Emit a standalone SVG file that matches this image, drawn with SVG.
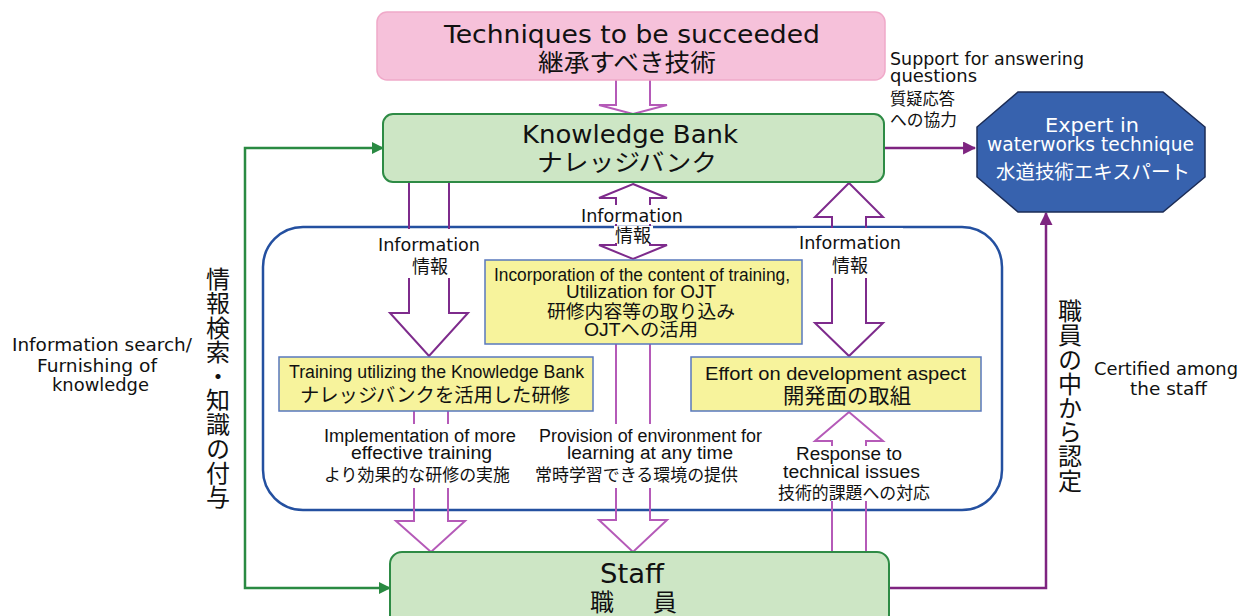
<svg xmlns="http://www.w3.org/2000/svg" width="1247" height="616" viewBox="0 0 1247 616">
<style>
.en{font-family:"DejaVu Sans","Noto Sans CJK JP",sans-serif;fill:#111}
.nar{font-family:"Liberation Sans","Noto Sans CJK JP",sans-serif;fill:#111}
.jp{font-family:"Noto Sans CJK JP","Noto Sans CJK SC",sans-serif;fill:#111}
.mid{text-anchor:middle}
.vt{font-family:"Noto Sans CJK JP","Noto Sans CJK SC",sans-serif;fill:#111;font-size:24px;writing-mode:vertical-rl;text-orientation:upright;letter-spacing:0.2px}
.hd{fill:none;stroke:#7e2b8c;stroke-width:2}
.hl{fill:none;stroke:#b55ab8;stroke-width:2}
.yb{fill:#f7f39c;stroke:#5878bd;stroke-width:1.5}
.gb{fill:#cde6c5;stroke:#2e8b45;stroke-width:2}
.bg{fill:#fff}
</style>
<defs>
<marker id="ag" viewBox="0 0 12 12" refX="11" refY="6" markerWidth="12" markerHeight="12" markerUnits="userSpaceOnUse" orient="auto-start-reverse"><path d="M0 0 L12 6 L0 12 Z" fill="#2a8a42"/></marker>
<marker id="ap" viewBox="0 0 12 12" refX="11" refY="6" markerWidth="13" markerHeight="13" markerUnits="userSpaceOnUse" orient="auto"><path d="M0 0 L12 6 L0 12 Z" fill="#7e2480"/></marker>
</defs>
<rect width="1247" height="616" fill="#fff"/>

<g id="frame">
<rect x="263" y="227" width="739" height="283" rx="40" fill="none" stroke="#2450a0" stroke-width="2.5"/>
</g>

<g id="connectors">
<path d="M383 148 H245 V588 H390" fill="none" stroke="#2a8a42" stroke-width="2.5" marker-start="url(#ag)" marker-end="url(#ag)"/>
<path d="M884 148 H975" fill="none" stroke="#7e2480" stroke-width="2.5" marker-end="url(#ap)"/>
<path d="M889 588 H1046 V213" fill="none" stroke="#7e2480" stroke-width="2.5" marker-end="url(#ap)"/>
<path class="hl" d="M616 80 V105 H599 L633 114 L667 105 H650 V80"/>
<path class="hd" d="M409 182 V313 H390 L429 356 L468 313 H449 V182"/>
<path class="hd" d="M633 184 L667 198 H650 V245 H667 L633 259 L599 245 H616 V198 H599 Z"/>
<path class="hd" d="M849 183 L883 217 H866 V323 H883 L849 356 L815 323 H832 V217 H815 Z"/>
<path class="hl" d="M414 411 V521 H396 L431 552 L465 521 H448 V411"/>
<path class="hl" d="M616 344 V520 H599 L633 552 L667 520 H650 V344"/>
<path class="hl" d="M832 552 V441 H815 L849 412 L883 441 H866 V552"/>
</g>

<g id="label-bgs">
<rect class="bg" x="376" y="229" width="107" height="49"/>
<rect class="bg" x="580" y="205" width="106" height="19"/>
<rect class="bg" x="614" y="226" width="39" height="17"/>
<rect class="bg" x="797" y="228" width="106" height="50"/>
<rect class="bg" x="321" y="424" width="198" height="64"/>
<rect class="bg" x="534" y="424" width="232" height="64"/>
<rect class="bg" x="776" y="446" width="157" height="55"/>
</g>

<g id="techniques">
<rect x="377" y="12" width="508" height="68" rx="10" fill="#f6c1da" stroke="#f0a9c9" stroke-width="1.5"/>
<text class="en mid" x="632" y="43" font-size="25" textLength="376" lengthAdjust="spacingAndGlyphs">Techniques to be succeeded</text>
<text class="jp mid" x="627" y="71" font-size="24" textLength="178" lengthAdjust="spacingAndGlyphs">継承すべき技術</text>
</g>

<g id="knowledge-bank">
<rect class="gb" x="383" y="114" width="501" height="68" rx="10"/>
<text class="en mid" x="630" y="142.5" font-size="24" textLength="216" lengthAdjust="spacingAndGlyphs">Knowledge Bank</text>
<text class="jp mid" x="627" y="171" font-size="24" textLength="180" lengthAdjust="spacingAndGlyphs">ナレッジバンク</text>
</g>

<g id="staff">
<rect class="gb" x="390" y="552" width="499" height="80" rx="12"/>
<text class="en mid" x="632" y="583" font-size="27" textLength="64" lengthAdjust="spacingAndGlyphs">Staff</text>
<text class="jp mid" x="633.5" y="611" font-size="24" textLength="87" lengthAdjust="spacing">職　員</text>
</g>

<g id="expert">
<polygon points="1018,92 1163,92 1205,127 1205,177 1163,212 1018,212 977,177 977,127" fill="#3762ae" stroke="#1c2c55" stroke-width="1.5"/>
<text class="en mid" x="1092" y="132" font-size="20" textLength="94" lengthAdjust="spacingAndGlyphs" style="fill:#fff">Expert in</text>
<text class="en mid" x="1090.5" y="151" font-size="19" textLength="207" lengthAdjust="spacingAndGlyphs" style="fill:#fff">waterworks technique</text>
<text class="jp mid" x="1093" y="179" font-size="19.5" textLength="194" lengthAdjust="spacingAndGlyphs" style="fill:#fff">水道技術エキスパート</text>
</g>

<g id="support-label">
<text class="en" x="890" y="65" font-size="17" textLength="194" lengthAdjust="spacingAndGlyphs">Support for answering</text>
<text class="en" x="890" y="82" font-size="17" textLength="87" lengthAdjust="spacingAndGlyphs">questions</text>
<text class="jp" x="890" y="105" font-size="16.5" textLength="65" lengthAdjust="spacingAndGlyphs">質疑応答</text>
<text class="jp" x="890" y="126" font-size="16.5" textLength="67" lengthAdjust="spacingAndGlyphs">への協力</text>
</g>

<g id="info-labels">
<text class="en mid" x="429" y="251" font-size="18" textLength="102" lengthAdjust="spacingAndGlyphs">Information</text>
<text class="jp mid" x="430" y="273" font-size="18" textLength="36" lengthAdjust="spacingAndGlyphs">情報</text>
<text class="en mid" x="632" y="222" font-size="18" textLength="102" lengthAdjust="spacingAndGlyphs">Information</text>
<text class="jp mid" x="633" y="242" font-size="18" textLength="36" lengthAdjust="spacingAndGlyphs">情報</text>
<text class="en mid" x="850" y="249" font-size="18" textLength="102" lengthAdjust="spacingAndGlyphs">Information</text>
<text class="jp mid" x="850" y="272" font-size="18" textLength="36" lengthAdjust="spacingAndGlyphs">情報</text>
</g>

<g id="incorporation">
<rect class="yb" x="485" y="260" width="317" height="84"/>
<text class="nar mid" x="642" y="281" font-size="17.5" textLength="296" lengthAdjust="spacingAndGlyphs">Incorporation of the content of training,</text>
<text class="nar mid" x="641" y="298" font-size="17.5" textLength="150" lengthAdjust="spacingAndGlyphs">Utilization for OJT</text>
<text class="jp mid" x="641" y="318" font-size="18" textLength="188" lengthAdjust="spacingAndGlyphs">研修内容等の取り込み</text>
<text class="nar mid" x="641" y="336" font-size="18" textLength="114" lengthAdjust="spacingAndGlyphs">OJTへの活用</text>
</g>

<g id="training">
<rect class="yb" x="279" y="357" width="314" height="54"/>
<text class="nar mid" x="436.5" y="378" font-size="18" textLength="295" lengthAdjust="spacingAndGlyphs">Training utilizing the Knowledge Bank</text>
<text class="jp mid" x="435" y="402" font-size="19.5" textLength="270" lengthAdjust="spacingAndGlyphs">ナレッジバンクを活用した研修</text>
</g>

<g id="effort">
<rect class="yb" x="691" y="357" width="290" height="54"/>
<text class="nar mid" x="835.5" y="380" font-size="19" textLength="261" lengthAdjust="spacingAndGlyphs">Effort on development aspect</text>
<text class="jp mid" x="847" y="403" font-size="21" textLength="128" lengthAdjust="spacingAndGlyphs">開発面の取組</text>
</g>

<g id="lower-labels">
<text class="nar mid" x="420" y="442" font-size="18" textLength="192" lengthAdjust="spacingAndGlyphs">Implementation of more</text>
<text class="nar mid" x="421.5" y="459" font-size="18" textLength="141" lengthAdjust="spacingAndGlyphs">effective training</text>
<text class="jp mid" x="417" y="481" font-size="17" textLength="186" lengthAdjust="spacingAndGlyphs">より効果的な研修の実施</text>
<text class="nar mid" x="650.5" y="442" font-size="18" textLength="223" lengthAdjust="spacingAndGlyphs">Provision of environment for</text>
<text class="nar mid" x="650" y="459" font-size="18" textLength="166" lengthAdjust="spacingAndGlyphs">learning at any time</text>
<text class="jp mid" x="636.5" y="481" font-size="17" textLength="203" lengthAdjust="spacingAndGlyphs">常時学習できる環境の提供</text>
<text class="nar mid" x="849" y="460" font-size="18" textLength="106" lengthAdjust="spacingAndGlyphs">Response to</text>
<text class="nar mid" x="851.5" y="478" font-size="18" textLength="137" lengthAdjust="spacingAndGlyphs">technical issues</text>
<text class="jp mid" x="854" y="499" font-size="17" textLength="152" lengthAdjust="spacingAndGlyphs">技術的課題への対応</text>
</g>

<g id="search-label">
<text class="en mid" x="102" y="351" font-size="18" textLength="180" lengthAdjust="spacingAndGlyphs">Information search/</text>
<text class="en mid" x="97" y="372" font-size="18" textLength="120" lengthAdjust="spacingAndGlyphs">Furnishing of</text>
<text class="en mid" x="100.5" y="391" font-size="18" textLength="97" lengthAdjust="spacingAndGlyphs">knowledge</text>
<text class="vt" x="218" y="267">情報検索・知識の付与</text>
</g>

<g id="certified-label">
<text class="en mid" x="1166" y="375" font-size="18" textLength="144" lengthAdjust="spacingAndGlyphs">Certified among</text>
<text class="en mid" x="1168.5" y="395" font-size="18" textLength="77" lengthAdjust="spacingAndGlyphs">the staff</text>
<text class="vt" x="1070" y="299">職員の中から認定</text>
</g>
</svg>
